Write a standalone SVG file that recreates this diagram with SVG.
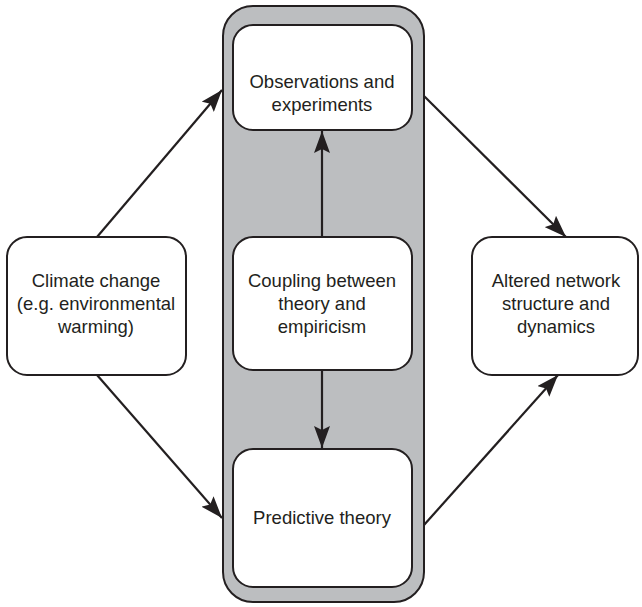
<svg xmlns="http://www.w3.org/2000/svg" width="642" height="607" viewBox="0 0 642 607">
<style>
.box{fill:#fff;stroke:#231f20;stroke-width:2}
.cont{fill:#bcbec0;stroke:#231f20;stroke-width:2}
.t{font-family:"Liberation Sans",Arial,sans-serif;font-size:18.5px;fill:#231f20;text-anchor:middle}
.c{stroke:#231f20;stroke-width:2.2;fill:none;marker-end:url(#ah)}
</style>
<defs>
<marker id="ah" viewBox="0 0 22 16" refX="22" refY="8" markerWidth="22" markerHeight="16" markerUnits="userSpaceOnUse" orient="auto">
<path d="M0,0 L22,8 L0,16 L4,8 Z" fill="#231f20"/>
</marker>
</defs>
<g id="container"><rect class="cont" x="223" y="6" width="201" height="596" rx="30"/></g>
<g id="obs"><rect class="box" x="233" y="25" width="179" height="105" rx="20"/>
<text class="t" x="322" y="88">Observations and</text><text class="t" x="322" y="111">experiments</text></g>
<g id="coupling"><rect class="box" x="233" y="237" width="179" height="133" rx="20"/>
<text class="t" x="322" y="287">Coupling between</text><text class="t" x="322" y="310">theory and</text><text class="t" x="322" y="333">empiricism</text></g>
<g id="predictive"><rect class="box" x="233" y="449" width="179" height="138" rx="20"/>
<text class="t" x="322" y="524">Predictive theory</text></g>
<g id="climate"><rect class="box" x="7" y="237" width="179" height="138" rx="20"/>
<text class="t" x="96" y="287">Climate change</text><text class="t" x="96" y="310">(e.g. environmental</text><text class="t" x="96" y="333">warming)</text></g>
<g id="altered"><rect class="box" x="472" y="237" width="166" height="138" rx="20"/>
<text class="t" x="556" y="287">Altered network</text><text class="t" x="556" y="310">structure and</text><text class="t" x="556" y="333">dynamics</text></g>
<g id="connectors">
<line class="c" x1="97" y1="237" x2="222" y2="90"/>
<line class="c" x1="97" y1="375" x2="222" y2="518"/>
<line class="c" x1="424" y1="96" x2="566" y2="237"/>
<line class="c" x1="424" y1="525" x2="558" y2="375"/>
<line class="c" x1="322" y1="237" x2="322" y2="131"/>
<line class="c" x1="322" y1="370" x2="322" y2="448"/>
</g>
</svg>
